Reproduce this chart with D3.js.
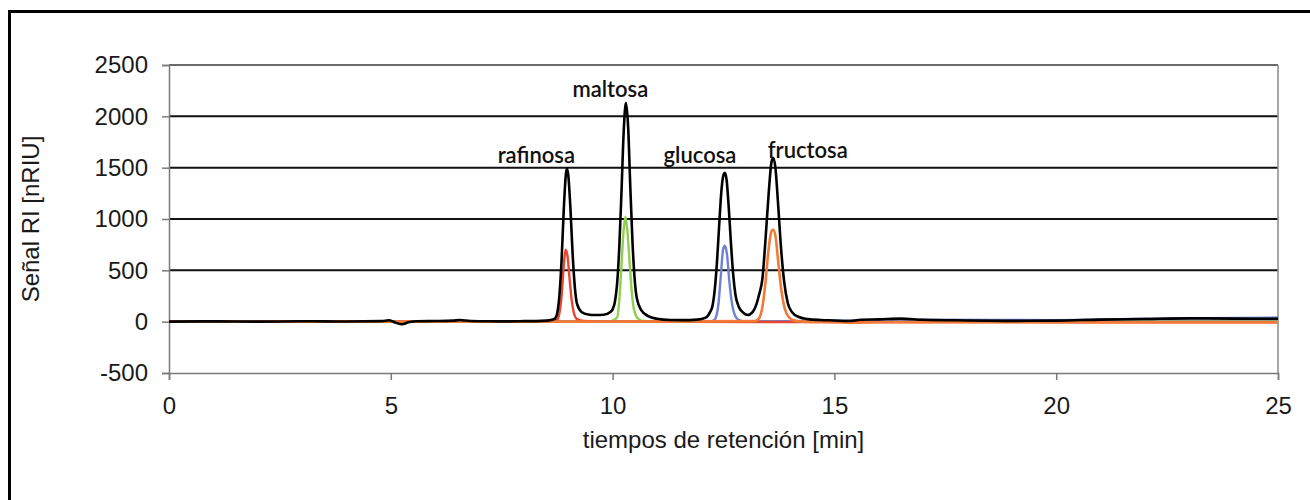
<!DOCTYPE html>
<html><head><meta charset="utf-8">
<script src="https://cdn.jsdelivr.net/npm/d3@7"></script>
<style>body{margin:0;background:#fff}svg{display:block}</style>
</head><body>
<svg id="c" width="1310" height="500"></svg>
<script>
// ---- data ----
const xTicks = [0, 5, 10, 15, 20, 25];
const yTicks = [-500, 0, 500, 1000, 1500, 2000, 2500];
const xTitle = "tiempos de retención [min]";
const yTitle = "Señal RI [nRIU]";

// total mixture (black)
const mezclaT = [0,1,2,3,4,4.8,4.95,5.1,5.25,5.4,5.6,6,6.4,6.55,6.8,7.2,7.6,8,8.4,8.6,8.7,8.75,8.8,8.85,8.9,8.95,8.97,9.0,9.05,9.1,9.15,9.2,9.3,9.45,9.6,9.8,9.95,10.0,10.05,10.1,10.15,10.2,10.25,10.3,10.35,10.4,10.45,10.5,10.55,10.65,10.8,11.0,11.3,11.6,11.9,12.1,12.2,12.25,12.3,12.35,12.4,12.45,12.5,12.53,12.57,12.62,12.67,12.72,12.77,12.85,12.95,13.05,13.15,13.25,13.3,13.38,13.45,13.52,13.58,13.62,13.67,13.73,13.8,13.87,13.95,14.05,14.2,14.4,14.7,15,15.3,15.6,16,16.5,17,18,19,20,21,22,23,24,25];
const mezclaV = [0,3,0,4,2,5,14,-8,-25,-6,4,6,10,16,6,4,3,5,8,15,30,80,250,600,1100,1450,1490,1430,1100,650,330,170,95,70,65,68,95,120,190,360,720,1260,1850,2133,1900,1300,760,400,220,110,55,28,16,15,20,40,95,150,300,560,920,1260,1430,1450,1380,1100,750,450,260,140,85,65,90,180,260,430,820,1260,1550,1597,1500,1150,700,380,180,90,45,25,16,12,6,18,22,30,18,12,8,10,20,26,32,30,28];

// rafinosa (red)
const rafT = [0,3,6,8.6,8.75,8.8,8.85,8.9,8.94,8.98,9.03,9.08,9.13,9.2,9.35,10,15,20,25];
const rafV = [0,0,0,2,20,80,250,550,700,650,420,200,80,25,6,0,-4,-5,-5];

// maltosa (green)
const malT = [0,5,9.9,10.1,10.15,10.2,10.25,10.29,10.33,10.38,10.43,10.48,10.55,10.65,11,15,25];
const malV = [0,0,0,40,200,550,900,1023,900,600,300,120,40,10,0,0,0];

// glucosa (blue)
const gluT = [0,5,10,12.2,12.3,12.38,12.44,12.49,12.53,12.58,12.63,12.69,12.76,12.85,13,15,17,20,22,25];
const gluV = [0,0,0,2,20,150,450,700,740,650,400,180,60,15,2,10,20,15,30,40];

// fructosa (orange)
const fruT = [0,5,10,13.2,13.3,13.38,13.45,13.52,13.58,13.62,13.67,13.73,13.8,13.88,13.97,14.1,14.3,15,15.4,16,20,25];
const fruV = [0,0,0,5,30,150,400,720,880,896,840,600,320,130,45,10,0,-5,-10,-4,-5,-5];

// other baseline traces
const purT = [0,5,10,15,20,25];
const purV = [2,2,5,5,5,8];
const yelT = [0,5,11.5,12.3,12.7,13.5,25];
const yelV = [0,0,0,2,2,0,0];

const peakNames = ["rafinosa", "maltosa", "glucosa", "fructosa"];
const peakLabelT = [8.28, 9.95, 11.97, 14.4];
const peakLabelV = [1549, 2191, 1549, 1597];

// ---- drawing ----
const svg = d3.select("#c");
const L = 169, R = 1278, T = 65, B = 373;
const x = d3.scaleLinear().domain([0, 25]).range([L, R]);
const y = d3.scaleLinear().domain([-500, 2500]).range([B, T]);

// outer frame
svg.append("rect").attr("x", 9.5).attr("y", 11.5).attr("width", 1330).attr("height", 520)
  .attr("fill", "#fff").attr("stroke", "#000").attr("stroke-width", 3);

// gridlines
svg.append("g").selectAll("line").data(yTicks.filter(d => d > -500 && d < 2500)).join("line")
  .attr("x1", L).attr("x2", R).attr("y1", d => y(d)).attr("y2", d => y(d))
  .attr("stroke", "#111").attr("stroke-width", 2);

// plot border top/right
svg.append("line").attr("x1", L).attr("x2", R).attr("y1", y(2500)).attr("y2", y(2500))
  .attr("stroke", "#6a6a6a").attr("stroke-width", 2);
svg.append("line").attr("x1", R).attr("x2", R).attr("y1", T).attr("y2", B)
  .attr("stroke", "#8a8a8a").attr("stroke-width", 1.5);

// axes
const fontAx = "'Liberation Sans', Arial, sans-serif";
const yAxis = svg.append("g").attr("transform", `translate(${L},0)`)
  .call(d3.axisLeft(y).tickValues(yTicks).tickSize(7).tickPadding(14).tickFormat(d => String(d)));
const xAxis = svg.append("g").attr("transform", `translate(0,${B})`)
  .call(d3.axisBottom(x).tickValues(xTicks).tickSize(7).tickPadding(17).tickFormat(d => String(d)));
[yAxis, xAxis].forEach(g => {
  g.select(".domain").attr("stroke", "#7a7a7a").attr("stroke-width", 1.5);
  g.selectAll(".tick line").attr("stroke", "#7a7a7a").attr("stroke-width", 1.5);
  g.selectAll("text").attr("font-family", fontAx).attr("font-size", 24).attr("fill", "#1a1a1a");
});

// series
const line = d3.line().x(d => x(d[0])).y(d => y(d[1])).curve(d3.curveMonotoneX);
const series = [
  [yelT, yelV, "#e3c43a", 2],
  [purT, purV, "#8a6cb0", 2],
  [malT, malV, "#8fcf4e", 2.4],
  [gluT, gluV, "#6f80d2", 2.4],
  [rafT, rafV, "#e8462e", 2.4],
  [fruT, fruV, "#f27a36", 2.6],
  [mezclaT, mezclaV, "#000", 2.6]
];
svg.append("g").attr("fill", "none").selectAll("path").data(series).join("path")
  .attr("d", s => line(d3.zip(s[0], s[1])))
  .attr("stroke", s => s[2]).attr("stroke-width", s => s[3]).attr("stroke-linejoin", "round");

// peak labels
svg.append("g").selectAll("text").data(peakNames).join("text")
  .attr("x", (d, i) => x(peakLabelT[i])).attr("y", (d, i) => y(peakLabelV[i]))
  .attr("text-anchor", "middle")
  .attr("font-family", "Lato, 'Open Sans', sans-serif").attr("font-size", 22).attr("font-weight", 600)
  .attr("fill", "#111").text(d => d);

// axis titles
svg.append("text").attr("x", (L + R) / 2).attr("y", 448).attr("text-anchor", "middle")
  .attr("font-family", fontAx).attr("font-size", 24).attr("fill", "#1a1a1a").text(xTitle);
svg.append("text").attr("transform", `translate(39,${(T + B) / 2}) rotate(-90)`).attr("text-anchor", "middle")
  .attr("font-family", fontAx).attr("font-size", 24).attr("fill", "#1a1a1a").text(yTitle);
</script>
</body></html>
